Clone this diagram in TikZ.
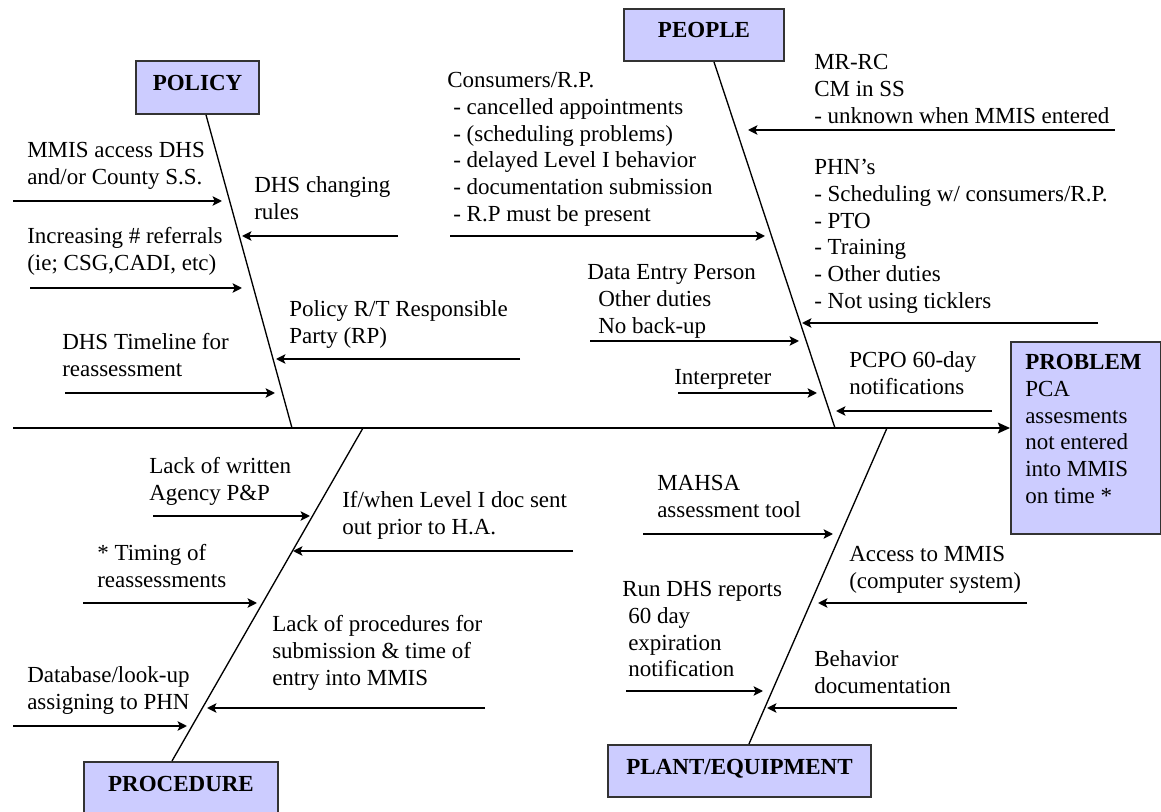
\documentclass[tikz,border=0pt]{standalone}
\usepackage{fontspec}
\setmainfont{Liberation Serif}
\usetikzlibrary{arrows.meta}
\definecolor{boxfill}{HTML}{CCCCFF}
% left-aligned block of lines whose reference point is the first baseline
\newcommand\txt[1]{\vtop{\halign{##\hfil\cr#1\crcr}}}
\newcommand\ind{\hskip4.5pt}
\newcommand\indd{\hskip8.25pt}

\begin{document}
\begin{tikzpicture}[x=0.75pt,y=-0.75pt,
  every node/.style={inner sep=0pt, font=\fontsize{17.25}{20}\selectfont},
  lbl/.style={anchor=base west},
  catbox/.style={draw=black!80, line width=1.5pt, fill=boxfill, anchor=north west,
    font=\fontsize{17.25}{20}\selectfont\bfseries, text height=11.6pt, text depth=7.1pt},
  probbox/.style={draw=black!80, line width=1.5pt, fill=boxfill, anchor=north west},
  bone/.style={line width=1pt},
  cause/.style={line width=2.2pt, -{Stealth[length=7pt,width=7pt,inset=1.5pt]}},
  spine/.style={line width=1.6pt, -{Stealth[length=9pt,width=8pt,inset=1.5pt]}}]

\useasboundingbox (0,0) rectangle (1161,812);

% ---- category boxes and problem box
\node[catbox, minimum width=92.25pt, minimum height=39.75pt] (policy) at (135,60) {POLICY};
\node[catbox, minimum width=120pt, minimum height=39pt] (people) at (623,8) {PEOPLE};
\node[catbox, minimum width=145.5pt, minimum height=39pt] (procedure) at (83,761) {PROCEDURE};
\node[catbox, minimum width=197.25pt, minimum height=39pt] (plant) at (607,744) {PLANT/EQUIPMENT};
\node[probbox, minimum width=112.5pt, minimum height=144pt] (problem) at (1010,341) {};
\node[lbl] (problemtext) at (1025,370)
  {\txt{\textbf{PROBLEM}\cr PCA\cr assesments\cr not entered\cr into MMIS\cr on time *}};

% ---- spine and bones
\coordinate (tail) at (13,428);
\coordinate (polB) at (292,428);
\coordinate (peoB) at (835,428);
\coordinate (proT) at (363,428);
\coordinate (plaT) at (887,428);

\draw[spine] (tail) -- (tail -| problem.west);
\draw[bone] ([xshift=6.4pt]policy.south) -- (polB);
\draw[bone] ([xshift=7.5pt]people.south) -- (peoB);
\draw[bone] (proT) -- ([xshift=-6.75pt]procedure.north);
\draw[bone] (plaT) -- ([xshift=7.1pt]plant.north);

% ---- POLICY causes
\node[lbl] (p1) at (27,158) {\txt{MMIS access DHS\cr and/or County S.S.}};
\node[lbl] (p2) at (27,244) {\txt{Increasing \# referrals\cr (ie; CSG,CADI, etc)}};
\node[lbl] (p3) at (62,350) {\txt{DHS Timeline for\cr reassessment}};
\node[lbl] (p4) at (254,193) {\txt{DHS changing\cr rules}};
\node[lbl] (p5) at (289,317) {\txt{Policy R/T Responsible\cr Party (RP)}};
\coordinate (p1s) at (13,201);  \coordinate (p1e) at (222,201);
\coordinate (p2s) at (30,288);  \coordinate (p2e) at (242,288);
\coordinate (p3s) at (65,393);  \coordinate (p3e) at (275,393);
\coordinate (p4s) at (398,236); \coordinate (p4e) at (242,236);
\coordinate (p5s) at (520,359); \coordinate (p5e) at (276,359);
\foreach \i in {1,...,5} \draw[cause] (p\i s) -- (p\i e);

% ---- PEOPLE causes
\node[lbl] (q1) at (447,88) {\txt{Consumers/R.P.\cr
  \ind- cancelled appointments\cr
  \ind- (scheduling problems)\cr
  \ind- delayed Level I behavior\cr
  \ind- documentation submission\cr
  \ind- R.P must be present}};
\node[lbl] (q2) at (587,280) {\txt{Data Entry Person\cr \indd Other duties\cr \indd No back-up}};
\node[lbl] (q3) at (674,385) {Interpreter};
\node[lbl] (q4) at (814,70) {\txt{MR-RC\cr CM in SS\cr - unknown when MMIS entered}};
\node[lbl] (q5) at (814,175) {\txt{PHN’s\cr
  - Scheduling w/ consumers/R.P.\cr
  - PTO\cr
  - Training\cr
  - Other duties\cr
  - Not using ticklers}};
\node[lbl] (q6) at (849,368) {\txt{PCPO 60-day\cr notifications}};
\coordinate (q1s) at (450,236);  \coordinate (q1e) at (765,236);
\coordinate (q2s) at (590,341);  \coordinate (q2e) at (799,341);
\coordinate (q3s) at (678,393);  \coordinate (q3e) at (817,393);
\coordinate (q4s) at (1115,130); \coordinate (q4e) at (748,130);
\coordinate (q5s) at (1098,323); \coordinate (q5e) at (802,323);
\coordinate (q6s) at (992,411);  \coordinate (q6e) at (836,411);
\foreach \i in {1,...,6} \draw[cause] (q\i s) -- (q\i e);

% ---- PROCEDURE causes
\node[lbl] (r1) at (149,474) {\txt{Lack of written\cr Agency P\&P}};
\node[lbl] (r2) at (97,561) {\txt{* Timing of\cr reassessments}};
\node[lbl] (r3) at (27,683) {\txt{Database/look-up\cr assigning to PHN}};
\node[lbl] (r4) at (342,508) {\txt{If/when Level I doc sent\cr out prior to H.A.}};
\node[lbl] (r5) at (272,632) {\txt{Lack of procedures for\cr submission \& time of\cr entry into MMIS}};
\coordinate (r1s) at (153,516); \coordinate (r1e) at (310,516);
\coordinate (r2s) at (83,603);  \coordinate (r2e) at (257,603);
\coordinate (r3s) at (13,726);  \coordinate (r3e) at (187,726);
\coordinate (r4s) at (573,551); \coordinate (r4e) at (293,551);
\coordinate (r5s) at (485,708); \coordinate (r5e) at (207,708);
\foreach \i in {1,...,5} \draw[cause] (r\i s) -- (r\i e);

% ---- PLANT/EQUIPMENT causes
\node[lbl] (s1) at (657,491) {\txt{MAHSA\cr assessment tool}};
\node[lbl] (s2) at (622,597) {\txt{Run DHS reports\cr \ind 60 day\cr \ind expiration\cr \ind notification}};
\node[lbl] (s3) at (849,562) {\txt{Access to MMIS\cr (computer system)}};
\node[lbl] (s4) at (814,667) {\txt{Behavior\cr documentation}};
\coordinate (s1s) at (643,534);  \coordinate (s1e) at (833,534);
\coordinate (s2s) at (626,691);  \coordinate (s2e) at (763,691);
\coordinate (s3s) at (1027,603); \coordinate (s3e) at (818,603);
\coordinate (s4s) at (957,708);  \coordinate (s4e) at (767,708);
\foreach \i in {1,...,4} \draw[cause] (s\i s) -- (s\i e);

\end{tikzpicture}
\end{document}
